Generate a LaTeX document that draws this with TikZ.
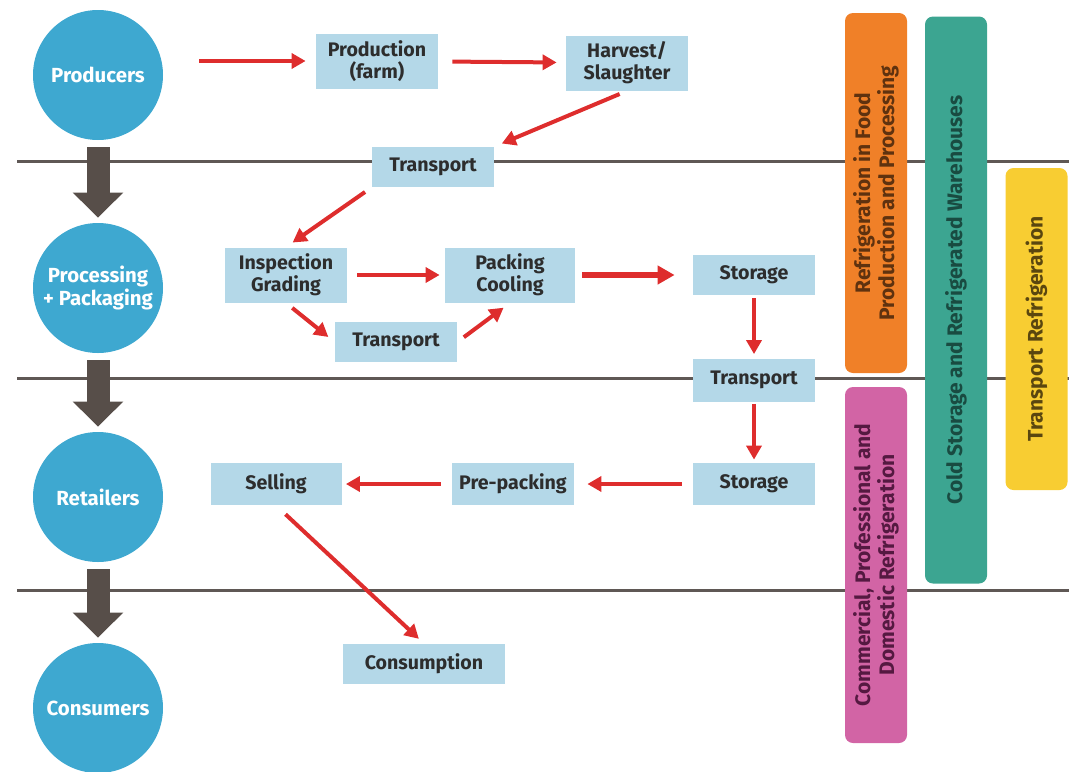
\documentclass[tikz,border=0pt]{standalone}
\usepackage{fontspec}
\setmainfont{Fira Sans}
\usetikzlibrary{arrows.meta}

\definecolor{stageblue}{RGB}{62,168,208}
\definecolor{boxblue}{RGB}{180,216,232}
\definecolor{boxtext}{RGB}{45,45,45}
\definecolor{flowred}{RGB}{222,45,45}
\definecolor{arrowgrey}{RGB}{87,78,73}
\definecolor{linegrey}{RGB}{95,88,85}
\definecolor{bandorange}{RGB}{240,128,40}
\definecolor{bandteal}{RGB}{60,165,145}
\definecolor{bandyellow}{RGB}{248,205,50}
\definecolor{bandpink}{RGB}{210,100,165}

\tikzset{
  stage/.style={circle, fill=stageblue, minimum size=65pt, inner sep=0pt,
    text=white, align=center, font=\bfseries\fontsize{10.2}{11.5}\selectfont},
  stepbox/.style={fill=boxblue, minimum width=61pt, minimum height=20pt,
    inner sep=2pt, text=boxtext, align=center,
    font=\bfseries\fontsize{9.8}{11}\selectfont},
  tall/.style={minimum height=27.5pt},
  flow/.style={draw=flowred, line width=2pt,
    -{Triangle[length=7pt,width=7.5pt]}, shorten <=4pt, shorten >=4pt},
  bigflow/.style={flow, line width=3pt, -{Triangle[length=8.5pt,width=9pt]}},
  stagearrow/.style={draw=arrowgrey, line width=11.5pt,
    -{Triangle[length=12.5pt,width=24.5pt]}, shorten <=3.5pt, shorten >=2.5pt},
  divider/.style={draw=linegrey, line width=1.5pt},
  band/.style={rotate=90, rounded corners=4pt, minimum height=31pt,
    inner sep=0pt, align=center, font=\bfseries\fontsize{10.5}{12}\selectfont}
}

\begin{document}
\begin{tikzpicture}[x=0.5pt,y=-0.5pt]
  \useasboundingbox (0,0) rectangle (1069,771);

  %Dividers
  \draw[divider] (17,161) -- (1069,161);
  \draw[divider] (17,378) -- (1069,378);
  \draw[divider] (17,590) -- (1069,590);

  %Stages
  \node[stage] at (98,75)  (prod) {Producers};
  \node[stage] at (98,288) (proc) {Processing\\+ Packaging};
  \node[stage] at (98,497) (ret)  {Retailers};
  \node[stage] at (98,708) (cons) {Consumers};

  %Steps
  \node[stepbox,tall] at (377,61)  (farm)    {Production\\(farm)};
  \node[stepbox,tall] at (627,63)  (harvest) {Harvest/\\Slaughter};
  \node[stepbox]      at (433,167) (tra)     {Transport};
  \node[stepbox,tall] at (286,275) (insp)    {Inspection\\Grading};
  \node[stepbox,tall,minimum width=65pt] at (510,275) (pack) {Packing\\Cooling};
  \node[stepbox]      at (754,275) (stoa)    {Storage};
  \node[stepbox]      at (396,342) (trb)     {Transport};
  \node[stepbox,minimum height=21.5pt] at (754,380) (trc) {Transport};
  \node[stepbox,minimum height=21pt]   at (754,484) (stob) {Storage};
  \node[stepbox,minimum height=21pt]   at (513,484) (prepack) {Pre-packing};
  \node[stepbox,minimum height=21pt,minimum width=65.5pt] at (276,484) (sell) {Selling};
  \node[stepbox,minimum width=81pt] at (424,664) (consum) {Consumption};

  %Refrigeration bands
  \node[band, fill=bandorange, text={rgb,255:red,95;green,50;blue,15}, minimum width=180pt]
    at (876,193) (food) {Refrigeration in Food\\Production and Processing};
  \node[band, fill=bandteal, text={rgb,255:red,25;green,75;blue,65}, minimum width=283.5pt]
    at (956,300) (cold) {Cold Storage and Refrigerated Warehouses};
  \node[band, fill=bandyellow, text={rgb,255:red,90;green,70;blue,15}, minimum width=161pt]
    at (1036.5,329) (trans) {Transport Refrigeration};
  \node[band, fill=bandpink, text={rgb,255:red,85;green,25;blue,65}, minimum width=178pt]
    at (876,565) (domestic) {Commercial, Professional and\\Domestic Refrigeration};

  %Stage arrows
  \draw[stagearrow] (prod) -- (proc);
  \draw[stagearrow] (proc) -- (ret);
  \draw[stagearrow] (ret) -- (cons);

  %Flow
  \draw[flow, shorten <=18pt, shorten >=5pt] (prod.east |- farm.west) -- (farm.west);
  \draw[flow, shorten <=7pt, shorten >=4.5pt] (farm) -- (harvest);
  \draw[flow] (harvest.south) -- (tra.north east);
  \draw[flow] (tra.south west) -- (insp.north);
  \draw[flow, shorten <=5pt, shorten >=2.5pt] (insp) -- (pack);
  \draw[flow] (insp.south) -- (trb.west);
  \draw[flow] (trb.east) -- (pack.south);
  \draw[bigflow, shorten <=3.5pt, shorten >=9pt] (pack) -- (stoa);
  \draw[flow, shorten <=1.5pt, shorten >=2pt] (stoa) -- (trc);
  \draw[flow, shorten <=1pt, shorten >=1.5pt] (trc) -- (stob);
  \draw[flow, shorten <=5.5pt, shorten >=6.5pt] (stob) -- (prepack);
  \draw[flow, shorten <=5.5pt, shorten >=2pt] (prepack) -- (sell);
  \draw[flow, shorten <=6.5pt, shorten >=3.5pt] (sell.south) -- (consum.north);
\end{tikzpicture}
\end{document}
